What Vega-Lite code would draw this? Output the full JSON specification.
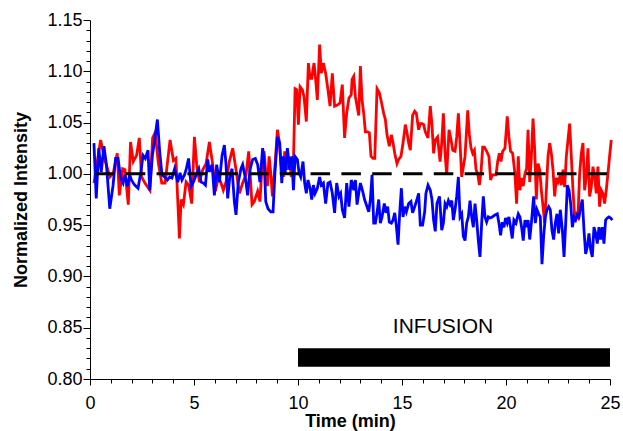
{
"$schema": "https://vega.github.io/schema/vega-lite/v6.json",
"width": 520, "height": 359,
"autosize": {"type": "none"},
"padding": {"left": 90, "top": 20, "right": 13, "bottom": 52},
"background": "white",
"config": {"view": {"stroke": null}, "font": "Liberation Sans"},
"datasets": {
"red": [
{"t":0.19,"v":0.991},{"t":0.51,"v":1.033},{"t":0.72,"v":1.013},{"t":0.96,"v":0.997},{"t":1.12,"v":1.001},{"t":1.31,"v":1.020},{"t":1.41,"v":0.979},{"t":1.57,"v":1.005},{"t":1.68,"v":1.004},{"t":1.84,"v":0.970},{"t":1.95,"v":1.031},{"t":2.08,"v":1.012},{"t":2.24,"v":1.018},{"t":2.37,"v":1.035},{"t":2.48,"v":0.997},{"t":2.64,"v":0.991},{"t":2.88,"v":0.984},{"t":3.01,"v":1.035},{"t":3.13,"v":1.040},{"t":3.29,"v":1.010},{"t":3.45,"v":0.991},{"t":3.61,"v":0.991},{"t":3.85,"v":1.033},{"t":4.01,"v":1.013},{"t":4.13,"v":1.015},
{"t":4.30,"v":0.937},{"t":4.38,"v":0.975},{"t":4.49,"v":0.970},{"t":4.62,"v":0.992},{"t":4.74,"v":0.989},{"t":4.89,"v":0.971},{"t":5.02,"v":1.036},{"t":5.13,"v":1.009},{"t":5.26,"v":0.992},{"t":5.42,"v":1.004},{"t":5.58,"v":1.010},{"t":5.74,"v":1.031},{"t":5.90,"v":1.009},{"t":6.03,"v":0.983},{"t":6.17,"v":0.997},{"t":6.30,"v":0.991},{"t":6.41,"v":0.984},{"t":6.54,"v":0.992},{"t":6.70,"v":1.012},{"t":6.86,"v":1.025},{"t":7.02,"v":1.004},{"t":7.18,"v":0.981},{"t":7.34,"v":0.991},{"t":7.50,"v":0.999},{"t":7.63,"v":1.022},{"t":7.79,"v":0.970},{"t":7.90,"v":0.973},{"t":8.06,"v":0.983},{"t":8.17,"v":0.973},{"t":8.30,"v":1.018},
{"t":8.37,"v":1.022},{"t":8.45,"v":1.001},{"t":8.53,"v":0.988},{"t":8.61,"v":1.017},{"t":8.69,"v":1.001},{"t":8.77,"v":0.978},{"t":8.88,"v":1.004},{"t":9.01,"v":1.043},{"t":9.09,"v":1.033},{"t":9.20,"v":1.007},{"t":9.30,"v":0.997},{"t":9.36,"v":1.022},{"t":9.46,"v":1.004},{"t":9.57,"v":1.017},{"t":9.68,"v":0.997},{"t":9.78,"v":1.010},{"t":9.86,"v":1.083},{"t":9.94,"v":1.082},{"t":10.02,"v":1.048},{"t":10.10,"v":1.085},{"t":10.21,"v":1.082},{"t":10.29,"v":1.075},{"t":10.40,"v":1.051},{"t":10.50,"v":1.108},{"t":10.58,"v":1.093},{"t":10.66,"v":1.093},{"t":10.77,"v":1.108},{"t":10.85,"v":1.092},{"t":10.93,"v":1.072},{"t":11.04,"v":1.126},{"t":11.12,"v":1.098},{"t":11.22,"v":1.108},{"t":11.33,"v":1.098},{"t":11.44,"v":1.082},{"t":11.54,"v":1.066},{"t":11.65,"v":1.098},{"t":11.76,"v":1.066},{"t":11.89,"v":1.067},{"t":12.02,"v":1.069},{"t":12.13,"v":1.087},{"t":12.24,"v":1.035},{"t":12.34,"v":1.059},{"t":12.45,"v":1.074},{"t":12.56,"v":1.077},
{"t":12.60,"v":1.092},{"t":12.68,"v":1.095},{"t":12.76,"v":1.075},{"t":12.84,"v":1.066},{"t":12.92,"v":1.057},{"t":13.00,"v":1.105},{"t":13.08,"v":1.072},{"t":13.16,"v":1.059},{"t":13.24,"v":1.041},{"t":13.35,"v":1.041},{"t":13.43,"v":1.040},{"t":13.51,"v":1.017},{"t":13.61,"v":1.015},{"t":13.69,"v":1.015},{"t":13.80,"v":1.083},{"t":13.91,"v":1.079},{"t":14.01,"v":1.070},{"t":14.12,"v":1.059},{"t":14.20,"v":1.053},{"t":14.28,"v":1.038},{"t":14.39,"v":1.027},{"t":14.49,"v":1.038},{"t":14.57,"v":1.030},{"t":14.65,"v":1.020},{"t":14.76,"v":1.010},{"t":14.84,"v":1.014},{"t":14.95,"v":1.017},{"t":15.05,"v":1.030},{"t":15.16,"v":1.048},{"t":15.24,"v":1.040},{"t":15.32,"v":1.030},{"t":15.40,"v":1.023},{"t":15.51,"v":1.057},{"t":15.61,"v":1.061},{"t":15.69,"v":1.059},{"t":15.80,"v":1.043},{"t":15.88,"v":1.049},{"t":15.96,"v":1.049},{"t":16.04,"v":1.048},{"t":16.12,"v":1.041},{"t":16.25,"v":1.035},{"t":16.36,"v":1.066},{"t":16.44,"v":1.048},{"t":16.52,"v":1.020},{"t":16.60,"v":1.033},{"t":16.71,"v":1.036},{"t":16.79,"v":1.020},
{"t":16.83,"v":1.012},{"t":16.91,"v":1.030},{"t":16.99,"v":1.059},{"t":17.07,"v":1.020},{"t":17.15,"v":0.999},{"t":17.26,"v":1.043},{"t":17.36,"v":1.033},{"t":17.44,"v":1.023},{"t":17.55,"v":1.022},{"t":17.63,"v":1.036},{"t":17.71,"v":1.059},{"t":17.79,"v":1.030},{"t":17.87,"v":0.997},{"t":17.95,"v":1.007},{"t":18.03,"v":1.017},{"t":18.16,"v":1.062},{"t":18.24,"v":1.038},{"t":18.32,"v":1.025},{"t":18.40,"v":1.020},{"t":18.48,"v":1.023},{"t":18.56,"v":1.004},{"t":18.64,"v":1.000},{"t":18.72,"v":0.989},{"t":18.80,"v":1.002},{"t":18.88,"v":1.026},{"t":18.96,"v":1.026},{"t":19.07,"v":1.022},{"t":19.18,"v":1.017},{"t":19.26,"v":0.994},{"t":19.34,"v":0.999},{"t":19.44,"v":0.999},{"t":19.52,"v":0.999},{"t":19.60,"v":1.012},{"t":19.68,"v":1.020},{"t":19.76,"v":1.012},{"t":19.84,"v":1.022},{"t":19.95,"v":1.025},{"t":20.06,"v":1.056},{"t":20.14,"v":1.036},{"t":20.22,"v":1.022},{"t":20.32,"v":1.020},{"t":20.43,"v":1.000},{"t":20.51,"v":0.971},{"t":20.59,"v":1.017},{"t":20.67,"v":0.984},{"t":20.75,"v":0.996},{"t":20.83,"v":0.988},{"t":20.91,"v":1.000},{"t":20.99,"v":1.005},
{"t":21.06,"v":1.043},{"t":21.14,"v":0.992},{"t":21.22,"v":1.017},{"t":21.30,"v":1.054},{"t":21.38,"v":1.023},{"t":21.46,"v":0.975},{"t":21.54,"v":1.010},{"t":21.62,"v":1.004},{"t":21.70,"v":0.984},{"t":21.78,"v":0.968},{"t":21.86,"v":0.952},{"t":21.94,"v":0.984},{"t":22.02,"v":1.017},{"t":22.10,"v":1.030},{"t":22.18,"v":1.020},{"t":22.26,"v":1.004},{"t":22.34,"v":0.978},{"t":22.42,"v":0.996},{"t":22.50,"v":0.992},{"t":22.58,"v":0.997},{"t":22.66,"v":0.989},{"t":22.74,"v":1.004},{"t":22.82,"v":0.987},{"t":22.90,"v":1.017},{"t":22.98,"v":1.033},{"t":23.06,"v":1.049},{"t":23.14,"v":1.017},{"t":23.22,"v":0.984},{"t":23.30,"v":0.958},{"t":23.38,"v":0.961},{"t":23.46,"v":0.958},{"t":23.54,"v":1.000},{"t":23.62,"v":1.020},{"t":23.70,"v":1.030},{"t":23.78,"v":0.984},{"t":23.86,"v":0.997},{"t":23.94,"v":1.025},{"t":24.02,"v":0.978},{"t":24.10,"v":0.987},{"t":24.18,"v":1.007},{"t":24.26,"v":0.997},{"t":24.34,"v":0.981},{"t":24.42,"v":1.007},{"t":24.50,"v":0.968},{"t":24.58,"v":0.984},{"t":24.66,"v":0.981},{"t":24.74,"v":0.971},{"t":24.82,"v":0.984},{"t":24.90,"v":1.000},{"t":24.98,"v":1.017},{"t":25.06,"v":1.033}
],
"blue": [
{"t":0.19,"v":1.030},{"t":0.30,"v":0.976},{"t":0.42,"v":1.025},{"t":0.54,"v":1.002},{"t":0.67,"v":1.027},{"t":0.79,"v":1.009},{"t":0.95,"v":0.966},{"t":1.11,"v":0.989},{"t":1.23,"v":1.015},{"t":1.35,"v":1.015},{"t":1.47,"v":0.996},{"t":1.59,"v":0.991},{"t":1.67,"v":0.999},{"t":1.80,"v":0.988},{"t":1.91,"v":0.999},{"t":1.99,"v":0.994},{"t":2.15,"v":0.989},{"t":2.31,"v":0.986},{"t":2.44,"v":1.001},{"t":2.55,"v":1.018},{"t":2.66,"v":1.015},{"t":2.79,"v":1.023},{"t":2.87,"v":0.984},{"t":3.00,"v":1.018},{"t":3.11,"v":1.033},{"t":3.24,"v":1.053},{"t":3.35,"v":1.022},{"t":3.46,"v":0.999},{"t":3.59,"v":0.997},{"t":3.72,"v":0.994},{"t":3.83,"v":0.997},{"t":3.94,"v":0.996},{"t":4.07,"v":1.005},
{"t":4.22,"v":0.992},{"t":4.33,"v":1.001},{"t":4.42,"v":0.994},{"t":4.54,"v":0.999},{"t":4.62,"v":1.004},{"t":4.74,"v":1.015},{"t":4.86,"v":0.988},{"t":4.97,"v":0.992},{"t":5.10,"v":0.999},{"t":5.23,"v":1.005},{"t":5.34,"v":0.992},{"t":5.45,"v":0.991},{"t":5.55,"v":0.989},{"t":5.66,"v":1.014},{"t":5.74,"v":1.002},{"t":5.87,"v":1.009},{"t":5.98,"v":0.979},{"t":6.09,"v":1.009},{"t":6.22,"v":0.992},{"t":6.35,"v":1.018},{"t":6.46,"v":1.028},{"t":6.54,"v":1.009},{"t":6.62,"v":0.976},{"t":6.73,"v":0.999},{"t":6.83,"v":1.005},{"t":6.94,"v":0.973},{"t":7.02,"v":0.960},{"t":7.13,"v":0.992},{"t":7.26,"v":1.005},{"t":7.34,"v":1.009},{"t":7.47,"v":0.996},{"t":7.58,"v":0.979},{"t":7.69,"v":1.004},{"t":7.82,"v":1.014},{"t":7.95,"v":1.015},{"t":8.06,"v":1.009},{"t":8.17,"v":0.992},{"t":8.30,"v":1.025},
{"t":8.37,"v":1.014},{"t":8.45,"v":0.973},{"t":8.56,"v":0.966},{"t":8.69,"v":0.963},{"t":8.80,"v":0.963},{"t":8.89,"v":1.001},{"t":9.01,"v":1.036},{"t":9.12,"v":1.030},{"t":9.22,"v":0.991},{"t":9.30,"v":1.017},{"t":9.38,"v":1.001},{"t":9.49,"v":1.025},{"t":9.60,"v":1.004},{"t":9.70,"v":1.017},{"t":9.78,"v":0.984},{"t":9.86,"v":1.017},{"t":9.97,"v":1.014},{"t":10.05,"v":1.001},{"t":10.13,"v":0.997},{"t":10.24,"v":1.012},{"t":10.32,"v":0.991},{"t":10.40,"v":0.981},{"t":10.48,"v":0.994},{"t":10.58,"v":0.986},{"t":10.66,"v":0.975},{"t":10.74,"v":0.989},{"t":10.82,"v":0.981},{"t":10.93,"v":0.986},{"t":11.04,"v":0.997},{"t":11.12,"v":0.989},{"t":11.22,"v":0.991},{"t":11.33,"v":0.971},{"t":11.44,"v":0.991},{"t":11.54,"v":0.992},{"t":11.65,"v":0.981},{"t":11.76,"v":0.962},{"t":11.86,"v":0.991},{"t":11.97,"v":0.978},{"t":12.05,"v":0.981},{"t":12.13,"v":0.965},{"t":12.24,"v":0.957},{"t":12.34,"v":0.991},{"t":12.45,"v":0.968},{"t":12.56,"v":0.994},
{"t":12.60,"v":0.992},{"t":12.68,"v":0.984},{"t":12.76,"v":0.994},{"t":12.84,"v":0.970},{"t":12.92,"v":0.981},{"t":13.00,"v":0.991},{"t":13.11,"v":0.983},{"t":13.20,"v":0.975},{"t":13.32,"v":0.968},{"t":13.40,"v":0.963},{"t":13.48,"v":0.975},{"t":13.56,"v":0.999},{"t":13.64,"v":0.952},{"t":13.72,"v":0.952},{"t":13.80,"v":0.962},{"t":13.88,"v":0.975},{"t":13.96,"v":0.952},{"t":14.04,"v":0.958},{"t":14.15,"v":0.971},{"t":14.23,"v":0.962},{"t":14.31,"v":0.968},{"t":14.39,"v":0.953},{"t":14.49,"v":0.952},{"t":14.57,"v":0.955},{"t":14.65,"v":0.962},{"t":14.73,"v":0.949},{"t":14.81,"v":0.931},{"t":14.89,"v":0.962},{"t":14.97,"v":0.986},{"t":15.05,"v":0.958},{"t":15.13,"v":0.968},{"t":15.21,"v":0.963},{"t":15.32,"v":0.971},{"t":15.43,"v":0.973},{"t":15.51,"v":0.962},{"t":15.61,"v":0.968},{"t":15.72,"v":0.975},{"t":15.80,"v":0.981},{"t":15.88,"v":0.950},{"t":15.99,"v":0.950},{"t":16.09,"v":0.963},{"t":16.15,"v":0.981},{"t":16.25,"v":0.989},{"t":16.36,"v":0.984},{"t":16.44,"v":0.975},{"t":16.52,"v":0.955},{"t":16.60,"v":0.944},{"t":16.68,"v":0.971},{"t":16.80,"v":0.978},
{"t":16.83,"v":0.970},{"t":16.91,"v":0.945},{"t":16.99,"v":0.952},{"t":17.07,"v":0.971},{"t":17.15,"v":0.968},{"t":17.23,"v":0.974},{"t":17.31,"v":0.970},{"t":17.39,"v":0.974},{"t":17.47,"v":0.955},{"t":17.55,"v":0.965},{"t":17.63,"v":0.978},{"t":17.71,"v":0.997},{"t":17.79,"v":0.958},{"t":17.87,"v":0.961},{"t":17.95,"v":0.939},{"t":18.03,"v":0.935},{"t":18.11,"v":0.952},{"t":18.19,"v":0.958},{"t":18.27,"v":0.974},{"t":18.35,"v":0.958},{"t":18.43,"v":0.948},{"t":18.51,"v":0.971},{"t":18.59,"v":0.955},{"t":18.67,"v":0.935},{"t":18.75,"v":0.919},{"t":18.83,"v":0.952},{"t":18.91,"v":0.978},{"t":18.99,"v":0.958},{"t":19.07,"v":0.953},{"t":19.15,"v":0.958},{"t":19.23,"v":0.957},{"t":19.34,"v":0.958},{"t":19.47,"v":0.960},{"t":19.58,"v":0.961},{"t":19.66,"v":0.952},{"t":19.74,"v":0.940},{"t":19.82,"v":0.953},{"t":19.90,"v":0.948},{"t":19.98,"v":0.957},{"t":20.06,"v":0.952},{"t":20.14,"v":0.958},{"t":20.22,"v":0.948},{"t":20.30,"v":0.937},{"t":20.38,"v":0.955},{"t":20.48,"v":0.952},{"t":20.59,"v":0.961},{"t":20.67,"v":0.958},{"t":20.75,"v":0.948},{"t":20.83,"v":0.935},{"t":20.91,"v":0.955},{"t":20.99,"v":0.948},
{"t":21.06,"v":0.955},{"t":21.14,"v":0.936},{"t":21.22,"v":0.952},{"t":21.33,"v":0.978},{"t":21.41,"v":0.952},{"t":21.49,"v":0.965},{"t":21.57,"v":0.961},{"t":21.65,"v":0.958},{"t":21.73,"v":0.912},{"t":21.81,"v":0.939},{"t":21.89,"v":0.958},{"t":21.97,"v":0.965},{"t":22.05,"v":0.968},{"t":22.13,"v":0.965},{"t":22.21,"v":0.945},{"t":22.29,"v":0.936},{"t":22.37,"v":0.952},{"t":22.45,"v":0.961},{"t":22.53,"v":0.942},{"t":22.61,"v":0.965},{"t":22.71,"v":0.945},{"t":22.79,"v":0.919},{"t":22.87,"v":0.952},{"t":22.95,"v":0.989},{"t":23.03,"v":0.984},{"t":23.11,"v":0.971},{"t":23.19,"v":0.948},{"t":23.27,"v":0.958},{"t":23.35,"v":0.955},{"t":23.43,"v":0.960},{"t":23.51,"v":0.958},{"t":23.59,"v":0.968},{"t":23.67,"v":0.975},{"t":23.75,"v":0.945},{"t":23.83,"v":0.922},{"t":23.91,"v":0.929},{"t":23.99,"v":0.942},{"t":24.07,"v":0.926},{"t":24.15,"v":0.919},{"t":24.23,"v":0.948},{"t":24.31,"v":0.942},{"t":24.39,"v":0.932},{"t":24.47,"v":0.948},{"t":24.55,"v":0.936},{"t":24.63,"v":0.948},{"t":24.71,"v":0.932},{"t":24.79,"v":0.955},{"t":24.87,"v":0.957},{"t":24.95,"v":0.958},{"t":25.03,"v":0.957},{"t":25.11,"v":0.955}
],
"ref": [{"t":0.24,"v":1.0},{"t":24.86,"v":1.0}],
"bar": [{"t":10.0,"t2":25.0,"v":0.812,"v2":0.830}],
"label": [{"t":16.97,"v":0.851,"label":"INFUSION"}]
},
"encoding": {
"x": {"field": "t", "type": "quantitative",
 "scale": {"domain": [0, 25], "nice": false, "zero": false},
 "axis": {"title": "Time (min)", "grid": false,
  "values": [0,1,2,3,4,5,6,7,8,9,10,11,12,13,14,15,16,17,18,19,20,21,22,23,24,25],
  "format": "d", "labelExpr": "datum.value % 5 === 0 ? datum.label : ''",
  "labelOverlap": false, "labelFlush": false,
  "tickSize": {"condition": {"test": "datum.value % 5 === 0", "value": 6}, "value": 4},
  "tickColor": "black", "domainColor": "black", "labelColor": "black", "titleColor": "black",
  "labelFont": "Liberation Sans", "labelFontSize": 18, "labelPadding": 9,
  "titleFont": "Liberation Sans", "titleFontSize": 18, "titleFontWeight": "bold", "titlePadding": 0}},
"y": {"field": "v", "type": "quantitative",
 "scale": {"domain": [0.8, 1.15], "nice": false, "zero": false},
 "axis": {"title": "Normalized Intensity", "grid": false,
  "values": [0.80,0.81,0.82,0.83,0.84,0.85,0.86,0.87,0.88,0.89,0.90,0.91,0.92,0.93,0.94,0.95,0.96,0.97,0.98,0.99,1.00,1.01,1.02,1.03,1.04,1.05,1.06,1.07,1.08,1.09,1.10,1.11,1.12,1.13,1.14,1.15],
  "format": ".2f", "labelExpr": "round(datum.value*100) % 5 === 0 ? datum.label : ''",
  "labelOverlap": false, "labelFlush": false,
  "tickSize": {"condition": {"test": "round(datum.value*100) % 5 === 0", "value": 7}, "value": 4},
  "tickColor": "black", "domainColor": "black", "labelColor": "black", "titleColor": "black",
  "labelFont": "Liberation Sans", "labelFontSize": 18, "labelPadding": 1,
  "titleFont": "Liberation Sans", "titleFontSize": 18, "titleFontWeight": "bold", "titlePadding": 16}}
},
"layer": [
{"data": {"name": "red"}, "mark": {"type": "line", "color": "#ff0000", "strokeWidth": 2.8}},
{"data": {"name": "blue"}, "mark": {"type": "line", "color": "#0000ff", "strokeWidth": 2.8}},
{"data": {"name": "ref"}, "mark": {"type": "line", "color": "black", "strokeWidth": 3, "strokeDash": [19.5, 11.3]}},
{"data": {"name": "bar"}, "mark": {"type": "rect", "color": "black"}, "encoding": {"x2": {"field": "t2"}, "y2": {"field": "v2"}}},
{"data": {"name": "label"}, "mark": {"type": "text", "fontSize": 21, "font": "Liberation Sans", "color": "black", "baseline": "middle", "align": "center"}, "encoding": {"text": {"field": "label"}}}
]
}
